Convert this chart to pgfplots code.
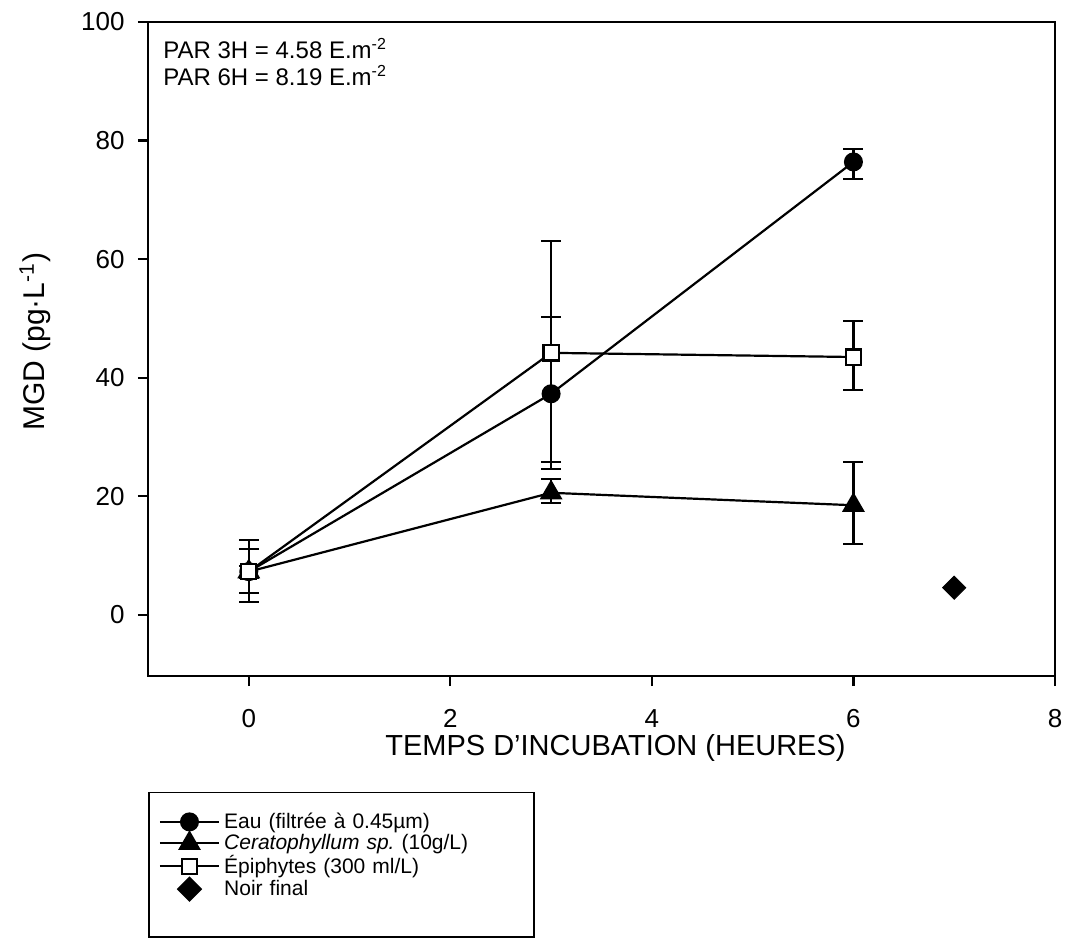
\documentclass[border=0pt]{standalone}
\usepackage{pgfplots}
\pgfplotsset{compat=1.18}
\usepackage{pgfplotstable}
\usepackage{fontspec}
\setmainfont{Liberation Sans}
\pgfplotstableread{
x y ep em
0 7.3 5.3 5.1
3 37.3 13.0 12.7
6 76.4 2.2 2.9
}\eau
\pgfplotstableread{
x y ep em
0 7.3 1.0 1.0
3 20.6 2.3 1.7
6 18.5 7.3 6.5
}\cerato
\pgfplotstableread{
x y ep em
0 7.3 3.8 3.6
3 44.2 18.9 18.4
6 43.5 6.1 5.6
}\epi
\pgfplotstableread{
x y
7 4.6
}\noir
\begin{document}
\fontsize{10.5}{12.6}\selectfont
\begin{tikzpicture}
\path[use as bounding box] (-74pt,-137pt) rectangle (458.5pt,338pt);
\begin{axis}[
  at={(0,0)}, anchor=south west,
  scale only axis,
  width=453.5pt, height=327pt,
  xmin=-1, xmax=8, ymin=-10.3, ymax=100,
  xtick={0,2,4,6,8}, ytick={0,20,40,60,80,100},
  tick align=outside, major tick length=5pt,
  tick style={line width=1.1pt, black},
  axis line style={line width=1.1pt},
  xtick pos=bottom, ytick pos=left,
  /pgf/number format/assume math mode=true,
  ticklabel style={font=\fontsize{13}{15}\selectfont},
  xticklabel style={yshift=-8pt},
  yticklabel style={xshift=-3pt},
  xlabel={TEMPS D'INCUBATION (HEURES)},
  ylabel={MGD (pg·L\textsuperscript{-1})},
  xlabel style={font=\fontsize{14.5}{17}\selectfont, at={(axis description cs:0.5,0)}, anchor=center, yshift=-36pt, xshift=7pt},
  ylabel style={font=\fontsize{15}{18}\selectfont, at={(axis description cs:-0.1246,0.511)}, anchor=center},
  legend style={at={(0,-0.177)}, anchor=north west, draw=black, line width=0.8pt,
    inner xsep=5pt, inner ysep=8pt, font=\fontsize{10.5}{12.6}\selectfont,
    /tikz/every even column/.append style={column sep=2pt},
    /tikz/column 2/.style={text width=148pt, font=\fontsize{10.5}{12.6}\selectfont},
    row sep=-2.5pt},
  legend cell align=left,
  legend image code/.code={\draw[mark repeat=2,mark phase=2] plot coordinates {(0cm,0cm)(0.52cm,0cm)(1.04cm,0cm)};},
  error bars/error bar style={line width=1.1pt, black},
  error bars/error mark options={rotate=90, mark size=5pt, line width=1.1pt, black},
]
\addplot[black, line width=1.1pt, mark=*, mark size=4.2pt, mark options={fill=black, solid},
  error bars/.cd, y dir=both, y explicit]
  table[x=x, y=y, y error plus=ep, y error minus=em] {\eau};
\addlegendentry{Eau (filtrée à 0.45µm)}
\addplot[black, line width=1.1pt, mark=triangle*, mark size=5.5pt, mark options={fill=black, solid},
  error bars/.cd, y dir=both, y explicit]
  table[x=x, y=y, y error plus=ep, y error minus=em] {\cerato};
\addlegendentry{\textit{Ceratophyllum sp.}\ (10g/L)}
\addplot[black, line width=1.1pt, mark=square*, mark size=3.8pt, mark options={fill=white, solid, line width=1.1pt},
  error bars/.cd, y dir=both, y explicit]
  table[x=x, y=y, y error plus=ep, y error minus=em] {\epi};
\addlegendentry{Épiphytes (300 ml/L)}
\addplot[black, only marks, mark=square*, mark size=4.1pt, mark options={fill=black, solid, rotate=45}]
  table[x=x, y=y] {\noir};
\addlegendentry{Noir final}
\addlegendimage{empty legend}
\addlegendentry{}
\addlegendimage{empty legend}
\addlegendentry{}
\addlegendimage{empty legend}
\addlegendentry{}
\node[anchor=north west, align=left, inner sep=0pt, font=\fontsize{12}{13.5}\selectfont]
  at (rel axis cs:0,1) [xshift=7.5pt, yshift=-8pt]
  {PAR 3H = 4.58 E.m\textsuperscript{-2}\\PAR 6H = 8.19 E.m\textsuperscript{-2}};
\end{axis}
\end{tikzpicture}
\end{document}
